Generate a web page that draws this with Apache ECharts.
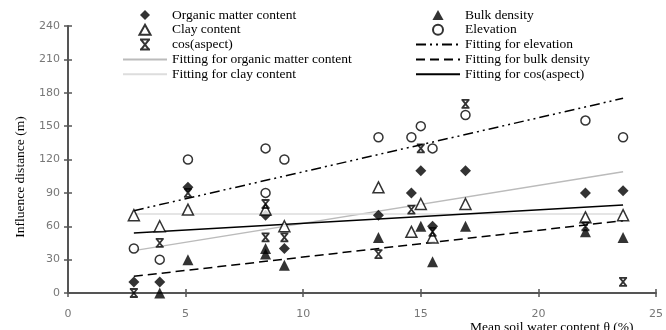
<!DOCTYPE html>
<html>
<head>
<meta charset="utf-8">
<script src="https://cdn.jsdelivr.net/npm/echarts@6/dist/echarts.min.js"></script>
<style>
  html, body { margin: 0; padding: 0; background: #fff; }
  #chart { width: 666px; height: 330px; }
</style>
</head>
<body>
<div id="chart"></div>
<script>
  // sample positions (mean soil water content, %)
  const sampleX = [2.8, 3.9, 5.1, 8.4, 8.4, 9.2, 13.2, 14.6, 15.0, 15.5, 16.9, 22.0, 23.6];
  // influence distance (m) per factor, null = not visible
  const organicMatter = [10, 10, 95, 70, null, 40, 70, 90, 110, 60, 110, 90, 92];
  const clayContent   = [70, 60, 75, 75, null, 60, 95, 55, 80, 50, 80, 68, 70];
  const cosAspect     = [0, 45, 90, 80, 50, 50, 35, 75, 130, 55, 170, 60, 10];
  const bulkDensity   = [null, 0, 30, 40, 35, 25, 50, null, 60, 28, 60, 55, 50];
  const elevation     = [40, 30, 120, 130, 90, 120, 140, 140, 150, 130, 160, 155, 140];

  // fitted lines, start / end
  const fitX = [2.8, 23.6];
  const fitOrganic = [38, 109];
  const fitClay = [71, 71];
  const fitElevation = [74, 175];
  const fitBulk = [15, 65];
  const fitCos = [54, 79];

  const yTicks = [0, 30, 60, 90, 120, 150, 180, 210, 240];
  const xTicks = [0, 5, 10, 15, 20, 25];

  const serif = "'Liberation Serif', 'Times New Roman', serif";
  const pairs = (xs, ys) => xs.map((x, i) => [x, ys[i]]).filter(p => p[1] !== null);

  // path symbols keep their aspect in the legend too
  const DIAMOND = 'path://M5,0L10,5L5,10L0,5Z';
  const TRIANGLE = 'path://M5,0L10,9L0,9Z';
  const HOURGLASS = 'path://M0,0L10,0M0,10L10,10M1,0L9,10M9,0L1,10';

  const chart = echarts.init(document.getElementById('chart'));

  const scatter = (name, ys, symbol, size, style) => ({
    name: name,
    type: 'scatter',
    data: pairs(sampleX, ys),
    symbol: symbol,
    symbolSize: size,
    itemStyle: style,
    z: 5
  });
  // transparent item style so the legend shows the line only
  const fit = (name, ys, lineStyle) => ({
    name: name,
    type: 'line',
    data: pairs(fitX, ys),
    symbol: 'none',
    itemStyle: { color: 'transparent', borderColor: 'transparent', borderWidth: 0 },
    lineStyle: lineStyle,
    z: 3
  });

  const legendBase = {
    orient: 'vertical', top: 8, padding: 0,
    itemWidth: 44, itemHeight: 10, itemGap: 0.8,
    textStyle: { color: '#000', fontFamily: serif, fontSize: 13.5 }
  };

  const option = {
    animation: false,
    backgroundColor: '#fff',
    grid: { left: 68, top: 26, width: 602, height: 267 },
    legend: [
      Object.assign({}, legendBase, {
        left: 122,
        data: ['Organic matter content', 'Clay content', 'cos(aspect)',
               'Fitting for organic matter content', 'Fitting for clay content']
      }),
      Object.assign({}, legendBase, {
        left: 415,
        data: ['Bulk density', 'Elevation', 'Fitting for elevation',
               'Fitting for bulk density', 'Fitting for cos(aspect)']
      })
    ],
    xAxis: [
      {
        type: 'value', min: 0, max: 25, interval: 5,
        axisLine: { lineStyle: { color: '#555', width: 2 } },
        axisTick: { length: 4, lineStyle: { color: '#555', width: 1.5 } },
        axisLabel: { color: '#777', fontSize: 11, fontFamily: 'DejaVu Sans', margin: 16,
                     formatter: v => xTicks.includes(v) ? String(v) : '' },
        splitLine: { show: false }
      },
      {
        type: 'value', min: 0, max: 25, interval: 5, position: 'bottom',
        axisLine: { show: false },
        axisTick: { inside: true, length: 4, lineStyle: { color: '#555', width: 1.5 } },
        axisLabel: { show: false },
        splitLine: { show: false }
      }
    ],
    yAxis: [
      {
        type: 'value', min: 0, max: 240, interval: 30,
        axisLine: { show: true, lineStyle: { color: '#555', width: 2 } },
        axisTick: { show: true, length: 4, lineStyle: { color: '#555', width: 1.5 } },
        axisLabel: { color: '#777', fontSize: 11, fontFamily: 'DejaVu Sans', margin: 8,
                     formatter: v => yTicks.includes(v) ? String(v) : '' },
        splitLine: { show: false }
      },
      {
        type: 'value', min: 0, max: 240, interval: 30, position: 'left',
        axisLine: { show: false },
        axisTick: { show: true, inside: true, length: 4, lineStyle: { color: '#555', width: 1.5 } },
        axisLabel: { show: false },
        splitLine: { show: false }
      }
    ],
    graphic: [
      {
        type: 'text', x: 20, y: 177, rotation: Math.PI / 2,
        style: { text: 'Influence distance (m)', fill: '#000', font: "13.5px " + serif,
                 align: 'center', verticalAlign: 'middle' }
      },
      {
        type: 'text', x: 470, y: 320,
        style: { text: 'Mean soil water content θ (%)', fill: '#000', font: "13.5px " + serif,
                 align: 'left', verticalAlign: 'top' }
      }
    ],
    series: [
      scatter('Organic matter content', organicMatter, DIAMOND, 11, { color: '#000' }),
      scatter('Clay content', clayContent, TRIANGLE, 11,
              { color: '#fff', borderColor: '#000', borderWidth: 1.5 }),
      scatter('cos(aspect)', cosAspect, HOURGLASS, 8,
              { color: 'transparent', borderColor: '#000', borderWidth: 1.8 }),
      scatter('Bulk density', bulkDensity, TRIANGLE, 11, { color: '#000' }),
      scatter('Elevation', elevation, 'circle', 9,
              { color: '#fff', borderColor: '#000', borderWidth: 1.5 }),
      fit('Fitting for organic matter content', fitOrganic, { color: '#bbb', width: 1.3, type: 'solid' }),
      fit('Fitting for clay content', fitClay, { color: '#ddd', width: 1.3, type: 'solid' }),
      fit('Fitting for elevation', fitElevation, { color: '#000', width: 1.5, type: [10, 4, 2, 4, 2, 4] }),
      fit('Fitting for bulk density', fitBulk, { color: '#000', width: 1.5, type: [9, 5] }),
      fit('Fitting for cos(aspect)', fitCos, { color: '#000', width: 1.5, type: 'solid' })
    ]
  };

  chart.setOption(option);
</script>
</body>
</html>
